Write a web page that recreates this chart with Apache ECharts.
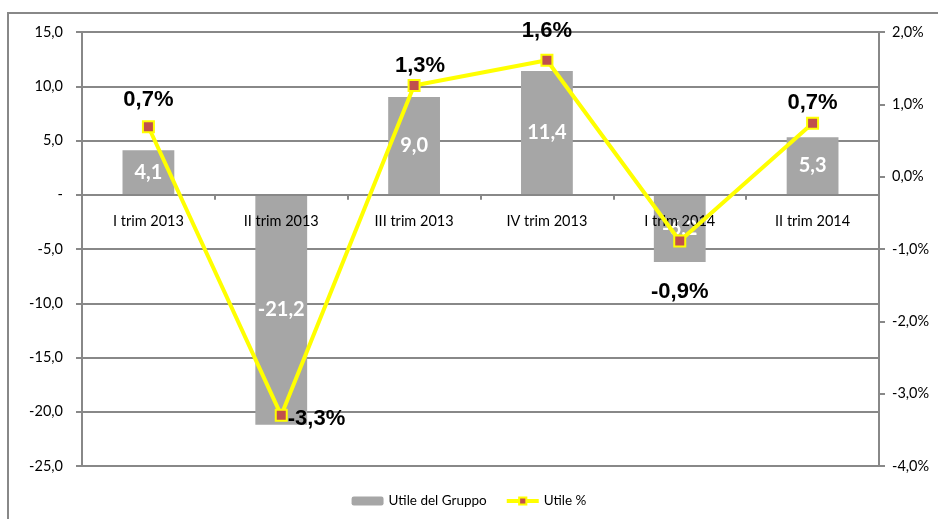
<!DOCTYPE html>
<html><head><meta charset="utf-8">
<script src="https://cdn.jsdelivr.net/npm/echarts@6/dist/echarts.min.js"></script>
<style>html,body{margin:0;padding:0;background:#fff}#c{width:938px;height:519px}</style>
</head><body><div id="c"></div>
<script>
const categories = ['I trim 2013','II trim 2013','III trim 2013','IV trim 2013','I trim 2014','II trim 2014'];
const utileGruppo = [4.1, -21.2, 9.0, 11.4, -6.2, 5.3];
const utilePct = [0.69, -3.3, 1.26, 1.61, -0.89, 0.74];
const pctLabelPos = ['top','right','top','top','bottom','top'];
const pctLabelDist = [9, 0, 2, 12, 33, 3];
const leftTicks = {min: -25, max: 15, interval: 5};
const rightTicks = {min: -4, max: 2, interval: 1};

const fmt1 = v => v.toFixed(1).replace('.', ',');
const gray = '#888888';
const W = 938, H = 519, gTop = 32, gBottom = 53;
const plotH = H - gTop - gBottom;
const zeroY = gTop + plotH * leftTicks.max / (leftTicks.max - leftTicks.min);
const xOffset = -((H - gBottom) - zeroY);

const chart = echarts.init(document.getElementById('c'));
chart.setOption({
  animation: false,
  textStyle: {fontFamily: 'Lato'},
  graphic: [{type: 'rect', shape: {x: 8, y: 13, width: 1200, height: 1000}, style: {fill: 'none', stroke: gray, lineWidth: 2}, silent: true}],
  grid: {left: 82, right: 59, top: gTop, bottom: gBottom},
  legend: {
    bottom: 6, left: 'center', itemWidth: 32, itemHeight: 9, itemGap: 18,
    textStyle: {fontFamily: 'Lato', fontSize: 13.5, color: '#000'},
    data: [
      {name: 'Utile del Gruppo'},
      {name: 'Utile %', lineStyle: {width: 4, color: '#ffff00'}, itemStyle: {color: '#c0504d', borderColor: '#ffff00', borderWidth: 2}}
    ]
  },
  xAxis: {
    type: 'category', data: categories, position: 'bottom', offset: xOffset, z: 3,
    axisLine: {onZero: false, lineStyle: {color: gray, width: 2}},
    axisTick: {show: true, alignWithLabel: false, length: 5, lineStyle: {color: gray, width: 2}},
    axisLabel: {color: '#000', fontSize: 14.5, margin: 19, fontFamily: 'Lato'},
    splitLine: {show: false}
  },
  yAxis: [{
    type: 'value', min: leftTicks.min, max: leftTicks.max, interval: leftTicks.interval,
    axisLine: {show: true, lineStyle: {color: gray, width: 2}},
    axisTick: {show: true, length: 6, lineStyle: {color: gray, width: 2}},
    axisLabel: {color: '#000', fontSize: 14.5, margin: 19, formatter: v => v === 0 ? '-' : fmt1(v)},
    splitLine: {show: true, lineStyle: {color: gray, width: 2}}
  }, {
    type: 'value', min: rightTicks.min, max: rightTicks.max, interval: rightTicks.interval,
    position: 'right',
    axisLine: {show: true, lineStyle: {color: gray, width: 2}},
    axisTick: {show: true, length: 6, lineStyle: {color: gray, width: 2}},
    axisLabel: {color: '#000', fontSize: 14.5, margin: 13, formatter: v => fmt1(v) + '%'},
    splitLine: {show: false}
  }],
  series: [{
    name: 'Utile del Gruppo', type: 'bar', yAxisIndex: 0, data: utileGruppo,
    barWidth: '39%', z: 2,
    itemStyle: {color: '#a6a6a6'},
    label: {show: true, position: 'inside', color: '#fff', fontWeight: 'bold', fontSize: 20, fontFamily: 'Lato', formatter: p => fmt1(p.value)}
  }, {
    name: 'Utile %', type: 'line', yAxisIndex: 1,
    data: utilePct.map((v, i) => ({value: v, label: {position: pctLabelPos[i], distance: pctLabelDist[i], offset: pctLabelPos[i] === 'right' ? [0, 4] : (i === 2 ? [6, 0] : [0, 0])}})),
    lineStyle: {color: '#ffff00', width: 4},
    symbol: 'rect', symbolSize: 11,
    itemStyle: {color: '#c0504d', borderColor: '#ffff00', borderWidth: 2},
    label: {show: true, color: '#000', fontWeight: 'bold', fontSize: 22, fontFamily: 'Liberation Sans', formatter: p => fmt1(p.value) + '%'},
    z: 5
  }]
});
</script></body></html>
